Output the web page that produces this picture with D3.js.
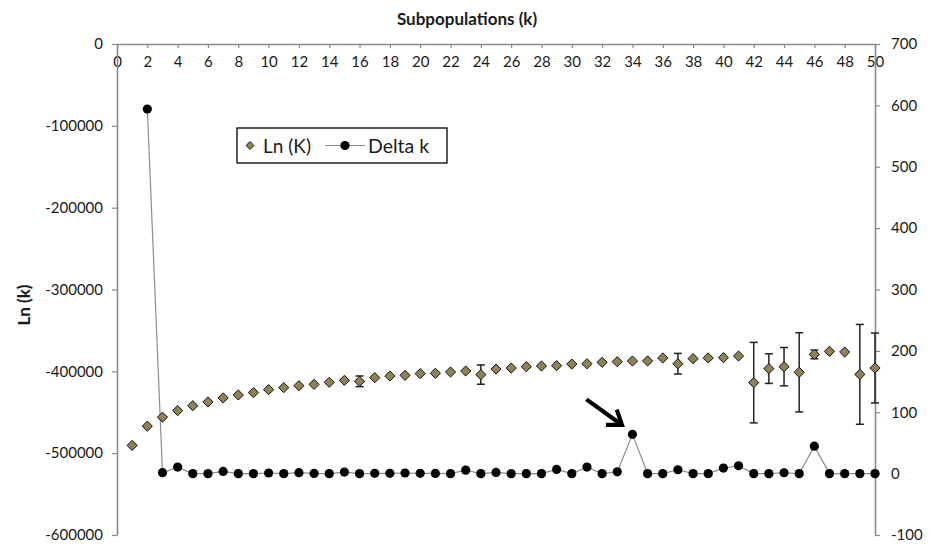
<!DOCTYPE html>
<html>
<head>
<meta charset="utf-8">
<script src="https://cdn.jsdelivr.net/npm/d3@7"></script>
<style>
  body { margin: 0; background: #fff; }
  svg text { font-family: Lato, "Open Sans", sans-serif; fill: #1a1a1a; }
</style>
</head>
<body>
<div id="chart"></div>
<script>
// K values 1..50
var kValues = d3.range(1, 51);

// Ln(K) mean per K (left axis)
var lnK = [-490500, -467000, -456000, -448000, -442000, -437400, -432500, -428900, -426000, -422400,
           -419900, -417500, -415900, -413400, -411000, -412200, -407700, -405700, -404900, -402800,
           -402400, -400800, -399600, -404000, -397200, -396000, -394300, -393500, -393100, -391100,
           -390700, -389000, -388200, -387400, -387300, -383700, -390700, -384500, -383700, -383300,
           -381300, -413800, -396700, -394300, -401200, -379300, -375600, -376400, -403700, -395900];

// standard deviation of Ln(K), drawn as error bars
var lnKsd = [800, 700, 700, 700, 700, 700, 700, 700, 700, 700,
             700, 700, 700, 700, 700, 6500, 700, 700, 700, 700,
             700, 700, 700, 11800, 700, 700, 700, 700, 700, 700,
             700, 700, 700, 700, 1200, 1200, 12600, 1200, 1200, 1200,
             1200, 49200, 18100, 23400, 48400, 5300, 1200, 1200, 61000, 42700];

// Delta K (right axis), defined from K = 2
var deltaK = [null, 594, 1.5, 10.6, 0, 0, 3.6, 0, 0, 1,
              0, 1.5, 0.3, 0, 2.5, 0, 0.5, 0.5, 1, 0.5,
              0.3, 0, 5.7, 0, 2, 0, 0, 0, 6.8, 0,
              10.6, 0, 3, 64, 0, 0, 6.3, 0, 0, 9,
              12.8, 0, 0, 1.4, 0, 44.7, 0, 0, 0, 0];

var xTicks = d3.range(0, 51, 2);
var leftTicks = [0, -100000, -200000, -300000, -400000, -500000, -600000];
var rightTicks = [700, 600, 500, 400, 300, 200, 100, 0, -100];
var arrowK = 34;

var W = 933, H = 545;
var axisColor = "#8a8a8a";
var diamondFill = "#8f8257";

var svg = d3.select("#chart").append("svg")
    .attr("width", W)
    .attr("height", H);

var x = d3.scaleLinear().domain([0, 50]).range([117, 875]);
var yL = d3.scaleLinear().domain([-600000, 0]).range([535, 44]);
var yR = d3.scaleLinear().domain([-100, 700]).range([535, 44]);

// axes
var xAxis = svg.append("g")
    .attr("transform", "translate(0," + yL(0) + ")")
    .call(d3.axisBottom(x).tickValues(xTicks).tickSize(4).tickSizeOuter(0).tickPadding(8));

var leftAxis = svg.append("g")
    .attr("transform", "translate(" + x(0) + ",0)")
    .call(d3.axisLeft(yL).tickValues(leftTicks).tickSize(5).tickSizeOuter(0).tickPadding(9)
        .tickFormat(d3.format("d")));

var rightAxis = svg.append("g")
    .attr("transform", "translate(" + x(50) + ",0)")
    .call(d3.axisRight(yR).tickValues(rightTicks).tickSize(5).tickSizeOuter(0).tickPadding(11)
        .tickFormat(d3.format("d")));

[xAxis, leftAxis, rightAxis].forEach(function (g) {
    g.select(".domain").attr("stroke", axisColor).attr("stroke-width", 1.6);
    g.selectAll(".tick line").attr("stroke", axisColor).attr("stroke-width", 1.2);
    g.selectAll(".tick text")
        .style("font-size", "15px")
        .style("fill", "#1a1a1a")
        .text(function (d) { return String(d).replace("\u2212", "-"); });
});

// titles
svg.append("text")
    .attr("x", 467)
    .attr("y", 25)
    .attr("text-anchor", "middle")
    .style("font-size", "17px")
    .style("font-weight", "bold")
    .text("Subpopulations (k)");

svg.append("text")
    .attr("transform", "translate(30,305) rotate(-90)")
    .attr("text-anchor", "middle")
    .style("font-size", "17px")
    .style("font-weight", "bold")
    .text("Ln (k)");

// Delta k line + points
var deltaData = kValues.map(function (k, i) { return { k: k, v: deltaK[i] }; })
    .filter(function (d) { return d.v !== null; });

var line = d3.line()
    .x(function (d) { return x(d.k); })
    .y(function (d) { return yR(d.v); });

svg.append("path")
    .datum(deltaData)
    .attr("d", line)
    .attr("fill", "none")
    .attr("stroke", "#8c8c8c")
    .attr("stroke-width", 1.2);

svg.selectAll("circle.delta")
    .data(deltaData)
    .enter().append("circle")
    .attr("class", "delta")
    .attr("cx", function (d) { return x(d.k); })
    .attr("cy", function (d) { return yR(d.v); })
    .attr("r", 4.6)
    .attr("fill", "#000");

// Ln(K) error bars + diamonds
var lnData = kValues.map(function (k, i) { return { k: k, v: lnK[i], sd: lnKsd[i] }; });

var bars = svg.selectAll("g.err")
    .data(lnData.filter(function (d) { return d.sd > 3000; }))
    .enter().append("g")
    .attr("class", "err")
    .attr("stroke", "#222")
    .attr("stroke-width", 1.5);

bars.append("line")
    .attr("x1", function (d) { return x(d.k); })
    .attr("x2", function (d) { return x(d.k); })
    .attr("y1", function (d) { return yL(d.v - d.sd); })
    .attr("y2", function (d) { return yL(d.v + d.sd); });

[-1, 1].forEach(function (s) {
    bars.append("line")
        .attr("x1", function (d) { return x(d.k) - 4; })
        .attr("x2", function (d) { return x(d.k) + 4; })
        .attr("y1", function (d) { return yL(d.v + s * d.sd); })
        .attr("y2", function (d) { return yL(d.v + s * d.sd); });
});

var diamond = d3.symbol().type(d3.symbolDiamond2).size(66);

svg.selectAll("path.ln")
    .data(lnData)
    .enter().append("path")
    .attr("class", "ln")
    .attr("transform", function (d) { return "translate(" + x(d.k) + "," + yL(d.v) + ")"; })
    .attr("d", diamond)
    .attr("fill", diamondFill)
    .attr("stroke", "#111")
    .attr("stroke-width", 1);

// arrow pointing at the Delta k peak
var target = deltaData.filter(function (d) { return d.k === arrowK; })[0];
var tx = x(target.k), ty = yR(target.v);
var tip = [tx - 10.5, ty - 9.5], tail = [tx - 46, ty - 35];
var ang = Math.atan2(tip[1] - tail[1], tip[0] - tail[0]);
var wing = 16, spread = 0.62;
var arrow = svg.append("g").attr("stroke", "#000").attr("fill", "none")
    .attr("stroke-width", 4.2).attr("stroke-linecap", "butt");
arrow.append("line")
    .attr("x1", tail[0]).attr("y1", tail[1])
    .attr("x2", tip[0] - Math.cos(ang) * 2).attr("y2", tip[1] - Math.sin(ang) * 2);
arrow.append("polyline")
    .attr("stroke-linejoin", "miter")
    .attr("points", [
        [tip[0] - wing * Math.cos(ang - spread), tip[1] - wing * Math.sin(ang - spread)],
        tip,
        [tip[0] - wing * Math.cos(ang + spread), tip[1] - wing * Math.sin(ang + spread)]
    ].map(function (p) { return p.join(","); }).join(" "));

// legend
var legend = svg.append("g").attr("transform", "translate(237,128)");
legend.append("rect")
    .attr("width", 210).attr("height", 35)
    .attr("fill", "#fff").attr("stroke", "#000").attr("stroke-width", 1.3);
legend.append("path")
    .attr("transform", "translate(13,17.5)")
    .attr("d", d3.symbol().type(d3.symbolDiamond2).size(40))
    .attr("fill", diamondFill).attr("stroke", "#111");
legend.append("text")
    .attr("x", 26).attr("y", 24.5)
    .style("font-size", "19px")
    .text("Ln (K)");
legend.append("line")
    .attr("x1", 88).attr("x2", 128).attr("y1", 17.5).attr("y2", 17.5)
    .attr("stroke", "#8c8c8c").attr("stroke-width", 1.2);
legend.append("circle")
    .attr("cx", 108).attr("cy", 17.5).attr("r", 4.6).attr("fill", "#000");
legend.append("text")
    .attr("x", 131).attr("y", 24.5)
    .style("font-size", "19.5px")
    .text("Delta k");
</script>
</body>
</html>
